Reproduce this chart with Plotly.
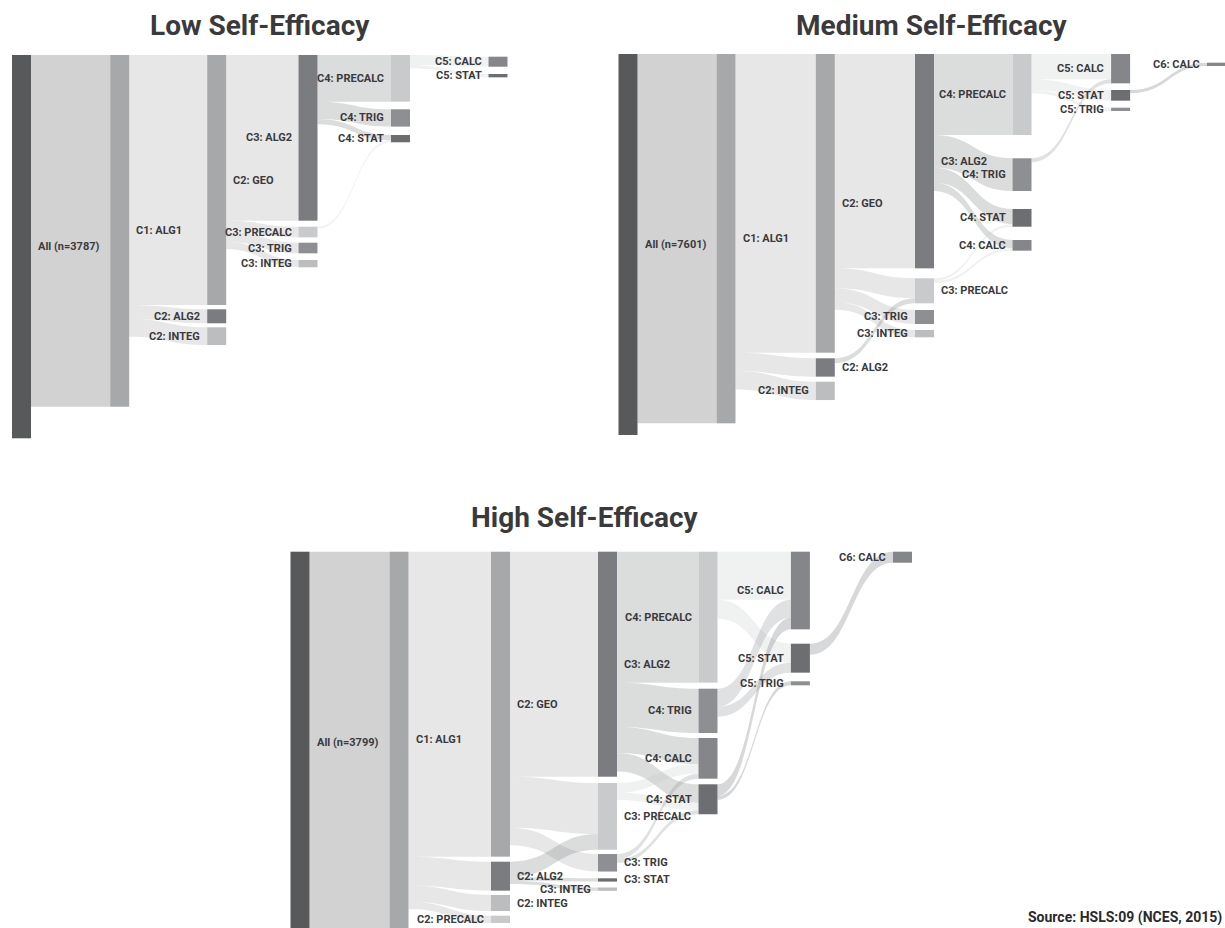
import plotly.graph_objects as go

FIG_W, FIG_H = 1225, 928
THICK = 19
LABEL_GAP = 5
FONT = "Roboto, Liberation Sans Narrow, DejaVu Sans Condensed, sans-serif"

course_colors = {
    "All": "#58595b", "ALG1": "#a7a8aa", "GEO": "#a7a8aa", "ALG2": "#7b7c7f",
    "PRECALC": "#c9cacc", "TRIG": "#8e8f92", "INTEG": "#bcbdbf",
    "STAT": "#6d6e71", "CALC": "#858689",
}

# ---------------- Low self-efficacy ----------------
low_n = 3787
low_nodes = ["All", "C1: ALG1", "C1: other", "C2: GEO", "C2: ALG2", "C2: INTEG",
             "C3: ALG2", "C3: PRECALC", "C3: TRIG", "C3: INTEG",
             "C4: PRECALC", "C4: TRIG", "C4: STAT", "C5: CALC", "C5: STAT"]
low_src = ["All", "All", "C1: ALG1", "C1: ALG1", "C1: ALG1",
           "C2: GEO", "C2: GEO", "C2: GEO", "C2: GEO",
           "C3: ALG2", "C3: ALG2", "C3: ALG2", "C3: PRECALC",
           "C4: PRECALC", "C4: PRECALC"]
low_tgt = ["C1: ALG1", "C1: other", "C2: GEO", "C2: ALG2", "C2: INTEG",
           "C3: ALG2", "C3: PRECALC", "C3: TRIG", "C3: INTEG",
           "C4: PRECALC", "C4: TRIG", "C4: STAT", "C4: STAT",
           "C5: CALC", "C5: STAT"]
low_val = [3475, 312, 2470, 138, 175,
           1637, 105, 105, 72,
           461, 171, 52, 20,
           99, 33]

# ---------------- Medium self-efficacy ----------------
med_n = 7601
med_nodes = ["All", "C1: ALG1", "C1: other", "C2: GEO", "C2: ALG2", "C2: INTEG",
             "C3: ALG2", "C3: PRECALC", "C3: TRIG", "C3: INTEG",
             "C4: PRECALC", "C4: TRIG", "C4: STAT", "C4: CALC",
             "C5: CALC", "C5: STAT", "C5: TRIG", "C6: CALC"]
med_src = ["All", "All", "C1: ALG1", "C1: ALG1", "C1: ALG1",
           "C2: GEO", "C2: GEO", "C2: GEO", "C2: GEO", "C2: ALG2",
           "C3: ALG2", "C3: ALG2", "C3: ALG2", "C3: ALG2",
           "C3: PRECALC", "C3: PRECALC",
           "C4: PRECALC", "C4: PRECALC", "C4: PRECALC", "C4: TRIG",
           "C5: STAT"]
med_tgt = ["C1: ALG1", "C1: other", "C2: GEO", "C2: ALG2", "C2: INTEG",
           "C3: ALG2", "C3: PRECALC", "C3: TRIG", "C3: INTEG", "C3: PRECALC",
           "C4: PRECALC", "C4: TRIG", "C4: STAT", "C4: CALC",
           "C4: STAT", "C4: CALC",
           "C5: CALC", "C5: STAT", "C5: TRIG", "C5: CALC",
           "C6: CALC"]
med_val = [7368, 233, 5959, 366, 366,
           4276, 399, 279, 146, 100,
           1616, 652, 303, 163,
           50, 50,
           505, 213, 66, 80,
           66]

# ---------------- High self-efficacy ----------------
high_n = 3799
high_nodes = ["All", "C1: ALG1", "C1: other", "C2: GEO", "C2: ALG2", "C2: INTEG", "C2: PRECALC",
              "C3: ALG2", "C3: PRECALC", "C3: TRIG", "C3: STAT", "C3: INTEG",
              "C4: PRECALC", "C4: TRIG", "C4: CALC", "C4: STAT",
              "C5: CALC", "C5: STAT", "C5: TRIG", "C6: CALC"]
high_src = ["All", "All", "C1: ALG1", "C1: ALG1", "C1: ALG1", "C1: ALG1",
            "C2: GEO", "C2: GEO", "C2: GEO", "C2: ALG2", "C2: ALG2", "C2: ALG2",
            "C3: ALG2", "C3: ALG2", "C3: ALG2", "C3: ALG2",
            "C3: PRECALC", "C3: PRECALC", "C3: TRIG", "C3: TRIG",
            "C4: PRECALC", "C4: PRECALC", "C4: TRIG", "C4: TRIG", "C4: STAT", "C4: STAT",
            "C5: STAT"]
high_tgt = ["C1: ALG1", "C1: other", "C2: GEO", "C2: ALG2", "C2: INTEG", "C2: PRECALC",
            "C3: ALG2", "C3: PRECALC", "C3: TRIG", "C3: PRECALC", "C3: STAT", "C3: INTEG",
            "C4: PRECALC", "C4: TRIG", "C4: CALC", "C4: STAT",
            "C4: CALC", "C4: STAT", "C4: CALC", "C4: STAT",
            "C5: CALC", "C5: STAT", "C5: CALC", "C5: STAT", "C5: CALC", "C5: TRIG",
            "C6: CALC"]
high_val = [3759, 40, 3044, 289, 160, 73,
            2246, 510, 175, 156, 33, 33,
            1307, 442, 260, 185,
            96, 74, 50, 40,
            480, 190, 180, 99, 115, 40,
            110]

# layout of each diagram: domain in px, column centres, node tops (px below first node top)
low_layout = dict(
    x0=0, x1=560, top=55, h=383.3, shift=0,
    cols=[21.5, 119.7, 216.7, 308, 400.5, 498],
    tops={"All": 0, "C1: ALG1": 0, "C1: other": 356,
          "C2: GEO": 0, "C2: ALG2": 254.3, "C2: INTEG": 272.3,
          "C3: ALG2": 0, "C3: PRECALC": 171.7, "C3: TRIG": 187.7, "C3: INTEG": 205,
          "C4: PRECALC": 0, "C4: TRIG": 54.3, "C4: STAT": 80,
          "C5: CALC": 1.7, "C5: STAT": 19},
    right={"All", "C1: ALG1", "C2: GEO"},
)
med_layout = dict(
    x0=600, x1=1225, top=54, h=381, shift=0,
    cols=[628, 726, 825.3, 924.5, 1022, 1120.6, 1216.5],
    tops={"All": 0, "C1: ALG1": 0, "C1: other": 374,
          "C2: GEO": 0, "C2: ALG2": 304.3, "C2: INTEG": 327.7,
          "C3: ALG2": 0, "C3: PRECALC": 224.3, "C3: TRIG": 256, "C3: INTEG": 276,
          "C4: PRECALC": 0, "C4: TRIG": 104.3, "C4: STAT": 155, "C4: CALC": 186,
          "C5: CALC": 0, "C5: STAT": 36, "C5: TRIG": 53.7, "C6: CALC": 8.7},
    right={"All", "C1: ALG1", "C2: GEO", "C2: ALG2", "C3: ALG2", "C3: PRECALC"},
)
high_layout = dict(
    x0=280, x1=940, top=547.4, h=380.6, shift=4.3,
    cols=[300, 399, 500.5, 607.5, 708, 800.4, 902.5],
    tops={"All": 0, "C1: ALG1": 0, "C1: other": 380,
          "C2: GEO": 0, "C2: ALG2": 310, "C2: INTEG": 343.3, "C2: PRECALC": 364,
          "C3: ALG2": 0, "C3: PRECALC": 231.3, "C3: TRIG": 302.3, "C3: STAT": 326.6, "C3: INTEG": 335.8,
          "C4: PRECALC": 0, "C4: TRIG": 137, "C4: CALC": 186.3, "C4: STAT": 232.6,
          "C5: CALC": 0, "C5: STAT": 92, "C5: TRIG": 129.6, "C6: CALC": 0},
    right={"All", "C1: ALG1", "C2: GEO", "C2: ALG2", "C2: INTEG", "C3: ALG2",
           "C3: PRECALC", "C3: TRIG", "C3: STAT"},
)


def rgba(hex_color, a):
    h = hex_color.lstrip("#")
    return f"rgba({int(h[0:2], 16)},{int(h[2:4], 16)},{int(h[4:6], 16)},{a})"


def build_sankey(nodes, src, tgt, val, n, lay):
    W = lay["x1"] - lay["x0"]
    H = lay["h"]
    ky = H / n
    inflow = {nm: 0 for nm in nodes}
    outflow = {nm: 0 for nm in nodes}
    for s, t, v in zip(src, tgt, val):
        outflow[s] += v
        inflow[t] += v

    idx = {nm: i for i, nm in enumerate(nodes)}
    node_x, node_y, node_col, anns = [], [], [], []
    for nm in nodes:
        hidden = nm.endswith("other")
        course = "All" if nm == "All" else nm.split(": ")[1]
        col = 0 if nm == "All" else int(nm[1])
        cx = lay["cols"][col]
        hgt = max(inflow[nm], outflow[nm]) * ky
        cy = lay["shift"] + lay["tops"][nm] + hgt / 2
        node_x.append((cx - lay["x0"]) / W)
        node_y.append(cy / H)
        node_col.append("rgba(0,0,0,0)" if hidden else course_colors.get(course, "#888"))
        if hidden:
            continue
        text = f"All (n={n})" if nm == "All" else nm
        on_right = nm in lay["right"]
        lx = cx + (THICK / 2 + LABEL_GAP) * (1 if on_right else -1)
        anns.append(dict(
            x=lx / FIG_W, y=1 - (lay["top"] + cy) / FIG_H, xref="paper", yref="paper",
            text=text, showarrow=False, xanchor="left" if on_right else "right",
            yanchor="middle", font=dict(family=FONT, size=11, color="#3a3a3c", weight=700),
        ))

    link_col = []
    for s, t in zip(src, tgt):
        if t.endswith("other"):
            link_col.append("rgba(0,0,0,0)")
        else:
            course = "All" if s == "All" else s.split(": ")[1]
            link_col.append(rgba(course_colors[course], 0.27))

    trace = go.Sankey(
        arrangement="fixed",
        domain=dict(x=[lay["x0"] / FIG_W, lay["x1"] / FIG_W],
                    y=[1 - (lay["top"] + H) / FIG_H, 1 - lay["top"] / FIG_H]),
        node=dict(label=[""] * len(nodes), x=node_x, y=node_y, pad=0,
                  thickness=THICK, color=node_col, line=dict(width=0),
                  hoverinfo="none"),
        link=dict(source=[idx[s] for s in src], target=[idx[t] for t in tgt],
                  value=val, color=link_col, hoverinfo="none"),
    )
    return trace, anns


fig = go.Figure()
annotations = []
for args in [(low_nodes, low_src, low_tgt, low_val, low_n, low_layout),
             (med_nodes, med_src, med_tgt, med_val, med_n, med_layout),
             (high_nodes, high_src, high_tgt, high_val, high_n, high_layout)]:
    tr, anns = build_sankey(*args)
    fig.add_trace(tr)
    annotations += anns

titles = [("Low Self-Efficacy", 260, 25), ("Medium Self-Efficacy", 931, 25),
          ("High Self-Efficacy", 585, 517)]
for txt, tx, ty in titles:
    annotations.append(dict(x=tx / FIG_W, y=1 - ty / FIG_H, xref="paper", yref="paper",
                            text=txt, showarrow=False, xanchor="center", yanchor="middle",
                            font=dict(family=FONT, size=28, color="#3a3a3c", weight=700)))

annotations.append(dict(x=1224 / FIG_W, y=1 - 917 / FIG_H, xref="paper", yref="paper",
                        text="Source: HSLS:09 (NCES, 2015)", showarrow=False,
                        xanchor="right", yanchor="middle",
                        font=dict(family=FONT, size=14, color="#2a2a2c", weight=700)))

fig.update_layout(
    width=FIG_W, height=FIG_H,
    margin=dict(l=0, r=0, t=0, b=0),
    paper_bgcolor="white", plot_bgcolor="white",
    annotations=annotations,
    showlegend=False,
)

fig.write_html("out.html", config={"displayModeBar": False},
               post_script="document.body.style.margin='0';")
